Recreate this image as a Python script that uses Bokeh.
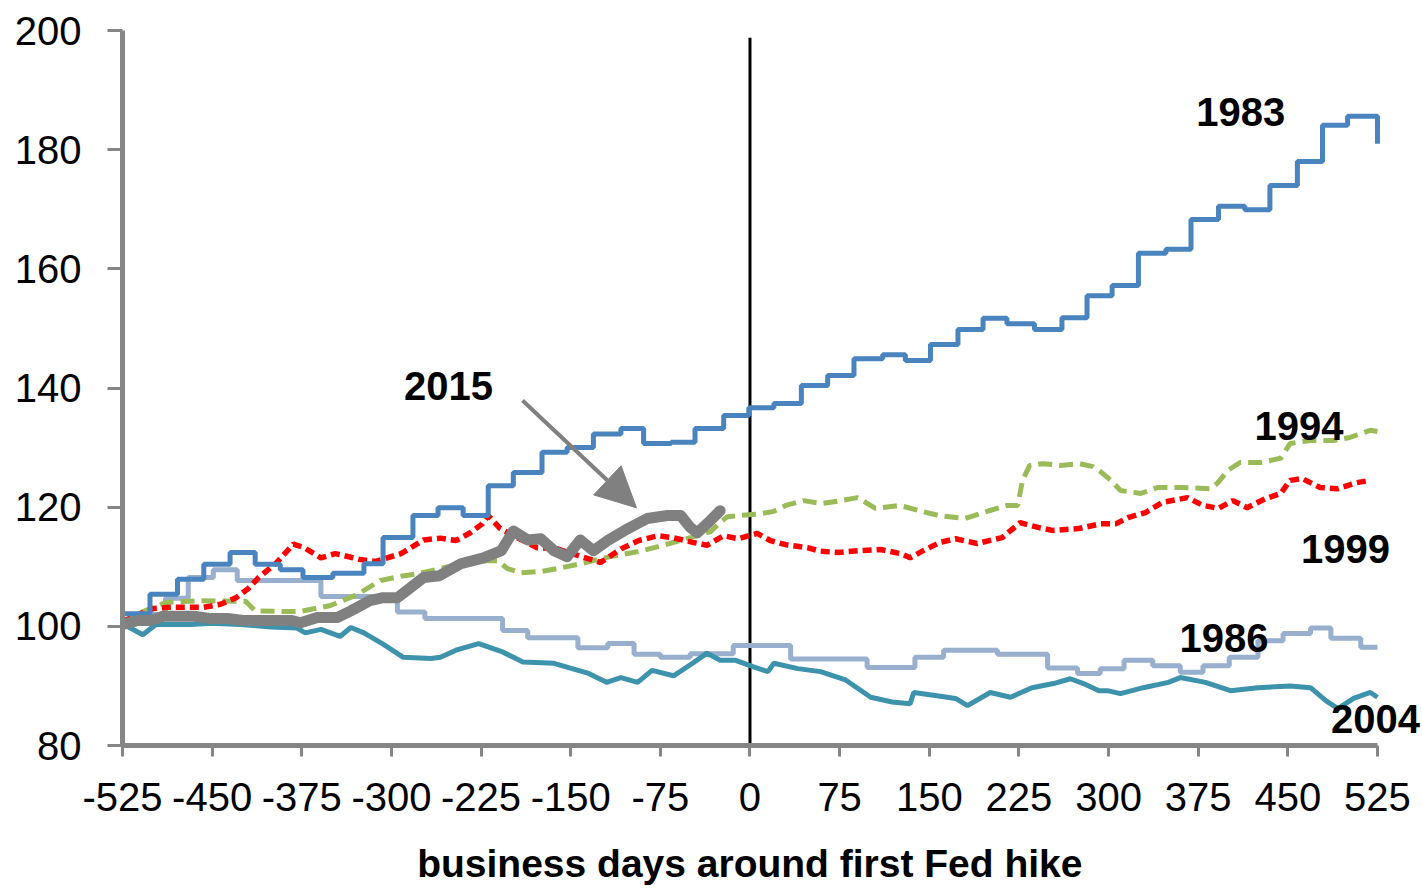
from bokeh.plotting import figure
from bokeh.models import Range1d, FixedTicker, Label, Arrow, NormalHead
from bokeh.embed import file_html
from bokeh.resources import INLINE

# ---------------- data (business days around first Fed hike, index) ----------------
x_ticks = [-525, -450, -375, -300, -225, -150, -75, 0, 75, 150, 225, 300, 375, 450, 525]
y_ticks = [80, 100, 120, 140, 160, 180, 200]
x_title = "business days around first Fed hike"

d1983_x = [-525, -502, -479, -457, -435, -414, -393, -374, -349, -323, -307, -282, -261, -240, -219,
           -198, -174, -153, -131, -108, -89, -66, -46, -22, -1, 20, 43, 65, 87, 111, 130, 151, 174,
           195, 215, 238, 261, 282, 303, 325, 348, 369, 392, 414, 435, 458, 479, 500, 521, 525]
d1983_y = [102.1, 105.4, 107.9, 110.4, 112.4, 110.4, 109.5, 108.2, 108.9, 110.5, 114.9, 118.6, 119.9,
           118.6, 123.6, 125.8, 129.2, 130.0, 132.3, 133.2, 130.7, 130.9, 133.2, 135.4, 136.7, 137.4,
           140.4, 142.1, 144.9, 145.6, 144.6, 147.3, 149.8, 151.7, 150.8, 149.8, 151.8, 155.5, 157.2,
           162.6, 163.3, 168.3, 170.5, 169.9, 174.0, 178.0, 184.1, 185.6, 185.6, 181.0]

d1986_x = [-525, -502, -489, -470, -449, -429, -359, -295, -272, -207, -186, -144, -119, -97, -75, -50,
           -14, 34, 98, 138, 162, 207, 249, 274, 293, 313, 337, 360, 379, 401, 425, 446, 469, 486, 511, 525]
d1986_y = [100.6, 102.0, 104.7, 108.2, 109.5, 107.7, 105.0, 102.4, 101.3, 99.3, 98.1, 96.4, 97.1, 95.3,
           94.8, 95.4, 96.8, 94.5, 93.1, 94.8, 96.0, 95.3, 93.0, 92.1, 92.9, 94.3, 93.4, 92.3, 93.4, 94.8,
           97.6, 98.8, 99.7, 98.0, 96.5, 96.5]

d1994_x = [-525, -510, -489, -460, -422, -414, -393, -376, -351, -330, -309, -292, -276, -259, -242,
           -221, -211, -203, -192, -175, -161, -142, -117, -92, -71, -50, -33, -25, -19, -8, 9, 20, 30,
           45, 60, 76, 90, 105, 125, 142, 158, 180, 200, 215, 224, 228, 234, 245, 260, 276, 287, 293,
           302, 310, 327, 341, 360, 385, 391, 400, 410, 427, 444, 452, 469, 488, 502, 519, 525]
d1994_y = [100.5, 102.3, 104.0, 104.3, 104.2, 102.6, 102.5, 102.5, 103.5, 105.2, 107.7, 108.4, 108.9,
           109.7, 110.5, 111.0, 111.0, 109.7, 109.0, 109.2, 109.7, 110.5, 111.7, 112.6, 113.7, 114.9,
           115.9, 117.4, 118.4, 118.6, 118.9, 119.3, 120.3, 121.1, 120.6, 121.1, 121.6, 119.8, 120.3,
           119.4, 118.6, 118.1, 119.4, 120.3, 120.3, 124.5, 127.0, 127.3, 127.0, 127.3, 126.8, 126.0,
           124.5, 122.8, 122.3, 123.3, 123.3, 123.1, 124.0, 126.2, 127.5, 127.5, 128.2, 130.7, 131.2,
           131.2, 131.7, 132.9, 132.7]

d1999_x = [-525, -505, -499, -485, -457, -443, -430, -420, -411, -397, -382, -373, -359, -347, -334,
           -326, -313, -292, -273, -259, -246, -234, -224, -219, -209, -196, -178, -161, -144, -125,
           -108, -93, -77, -65, -48, -36, -22, -10, 6, 17, 30, 48, 59, 74, 91, 109, 126, 134, 145, 159,
           172, 190, 211, 226, 241, 253, 275, 293, 306, 317, 331, 345, 366, 379, 392, 404, 416, 431,
           444, 452, 462, 477, 492, 507, 519]
d1999_y = [100.8, 102.5, 103.0, 103.2, 103.2, 103.7, 104.8, 106.3, 108.2, 110.5, 113.8, 113.2, 111.5,
           112.2, 111.6, 111.2, 110.9, 112.2, 114.5, 114.8, 114.4, 115.7, 117.2, 118.6, 116.4, 115.0,
           113.2, 113.0, 111.9, 110.7, 113.0, 114.4, 115.2, 114.9, 114.1, 113.6, 115.2, 114.7, 115.6,
           114.4, 113.7, 113.2, 112.6, 112.4, 112.7, 112.9, 112.2, 111.5, 112.7, 114.1, 114.7, 113.9,
           114.9, 117.4, 116.6, 116.1, 116.4, 117.2, 117.2, 118.3, 119.1, 120.8, 121.6, 120.3, 119.8,
           121.1, 119.9, 121.4, 122.3, 124.5, 124.8, 123.3, 123.1, 124.1, 124.5]

d2004_x = [-525, -522, -508, -497, -468, -451, -426, -401, -379, -372, -359, -343, -334, -323, -307,
           -290, -267, -259, -246, -227, -207, -190, -164, -135, -120, -108, -94, -82, -64, -48, -36,
           -25, -12, 3, 15, 20, 40, 59, 80, 101, 119, 134, 137, 155, 172, 182, 201, 218, 236, 254, 268,
           279, 292, 299, 310, 329, 350, 360, 381, 402, 425, 452, 469, 482, 492, 505, 519, 525]
d2004_y = [100.5, 100.1, 98.6, 100.3, 100.3, 100.5, 100.3, 99.9, 99.7, 98.9, 99.5, 98.3, 99.8, 98.9,
           97.0, 94.8, 94.6, 94.8, 96.0, 97.1, 95.7, 94.0, 93.8, 92.1, 90.6, 91.4, 90.6, 92.6, 91.7,
           93.8, 95.5, 94.3, 94.3, 93.2, 92.4, 93.8, 92.9, 92.4, 91.0, 88.1, 87.3, 87.0, 88.9, 88.4,
           87.9, 86.7, 88.9, 88.1, 89.7, 90.4, 91.2, 90.4, 89.2, 89.2, 88.7, 89.7, 90.6, 91.4, 90.6,
           89.2, 89.7, 90.0, 89.7, 87.5, 86.2, 87.9, 88.9, 88.1]

d2015_x = [-525, -512, -501, -491, -465, -451, -437, -424, -384, -376, -362, -345, -334, -318, -307,
           -295, -284, -273, -260, -242, -223, -208, -198, -186, -175, -164, -153, -142, -131, -119,
           -102, -86, -69, -58, -50, -44, -36, -25]
d2015_y = [100.3, 101.0, 101.0, 101.7, 101.7, 101.3, 101.3, 101.0, 101.0, 100.6, 101.5, 101.5, 102.6,
           104.3, 104.8, 104.8, 106.5, 108.2, 108.5, 110.5, 111.5, 112.7, 116.0, 114.5, 114.7, 112.7,
           111.7, 114.5, 112.7, 114.4, 116.4, 118.1, 118.6, 118.6, 116.6, 115.7, 117.2, 119.4]

series_labels = ["1983", "2015", "1994", "1999", "1986", "2004"]
label_x = [410.7, -252.3, 459.3, 498.2, 396.6, 523.3]
label_y = [186.4, 140.3, 133.6, 112.9, 98.1, 84.4]

# ---------------- figure ----------------
FONT = "Liberation Sans"
AXIS_GRAY = "#868686"

p = figure(width=1422, height=888, x_range=Range1d(-525, 561), y_range=Range1d(80, 200),
           output_backend="svg", toolbar_location=None,
           min_border_left=122, min_border_right=2, min_border_top=30, min_border_bottom=143)
p.outline_line_color = None
p.grid.visible = False
p.background_fill_color = "white"
p.border_fill_color = "white"

for ax in (p.xaxis[0], p.yaxis[0]):
    ax.axis_line_color = AXIS_GRAY
    ax.axis_line_width = 5
    ax.major_tick_line_color = AXIS_GRAY
    ax.major_tick_line_width = 3
    ax.major_tick_in = 0
    ax.minor_tick_line_color = None
    ax.major_label_text_font = FONT
    ax.major_label_text_font_size = "40px"
    ax.major_label_text_color = "black"

p.xaxis.ticker = FixedTicker(ticks=x_ticks)
p.xaxis.bounds = (x_ticks[0], x_ticks[-1])
p.xaxis.major_label_overrides = {t: str(t) for t in x_ticks}
p.yaxis.ticker = FixedTicker(ticks=y_ticks)
p.xaxis.major_tick_out = 11
p.xaxis.major_label_standoff = 26
p.yaxis.major_tick_out = 15
p.yaxis.major_label_standoff = 26

# x-axis title; trailing no-break spaces re-centre it under the axis rather than the wider frame
p.xaxis.axis_label = x_title + "\u00a0" * 4
p.xaxis.axis_label_text_font = FONT
p.xaxis.axis_label_text_font_style = "bold"
p.xaxis.axis_label_text_font_size = "39px"
p.xaxis.axis_label_text_color = "black"
p.xaxis.axis_label_standoff = 28

# vertical line at the first hike
p.segment(x0=[0], y0=[80], x1=[0], y1=[198.8], line_color="black", line_width=3)

# series
p.step(d1986_x, d1986_y, mode="after", line_color="#98B0CE", line_width=5)
p.line(d2004_x, d2004_y, line_color="#3D93AB", line_width=5)
p.line(d1994_x, d1994_y, line_color="#9BBB59", line_width=5, line_dash="14 7")
p.line(d1999_x, d1999_y, line_color="#FF0000", line_width=5.5, line_dash="9 5")
p.step(d1983_x, d1983_y, mode="after", line_color="#4A84BF", line_width=5)
p.line(d2015_x, d2015_y, line_color="#808080", line_width=11, line_join="round", line_cap="round")

# arrow pointing at 2015
p.add_layout(Arrow(end=NormalHead(size=40, fill_color="#808080", line_color="#808080"),
                   x_start=-190.3, y_start=137.9, x_end=-95.0, y_end=119.9,
                   line_color="#808080", line_width=4))

for t, lx, ly in zip(series_labels, label_x, label_y):
    p.add_layout(Label(x=lx, y=ly, text=t, text_align="center", text_baseline="alphabetic",
                       text_font=FONT, text_font_style="bold", text_font_size="40px",
                       text_color="black"))

open("out.html", "w").write(file_html(p, INLINE))
